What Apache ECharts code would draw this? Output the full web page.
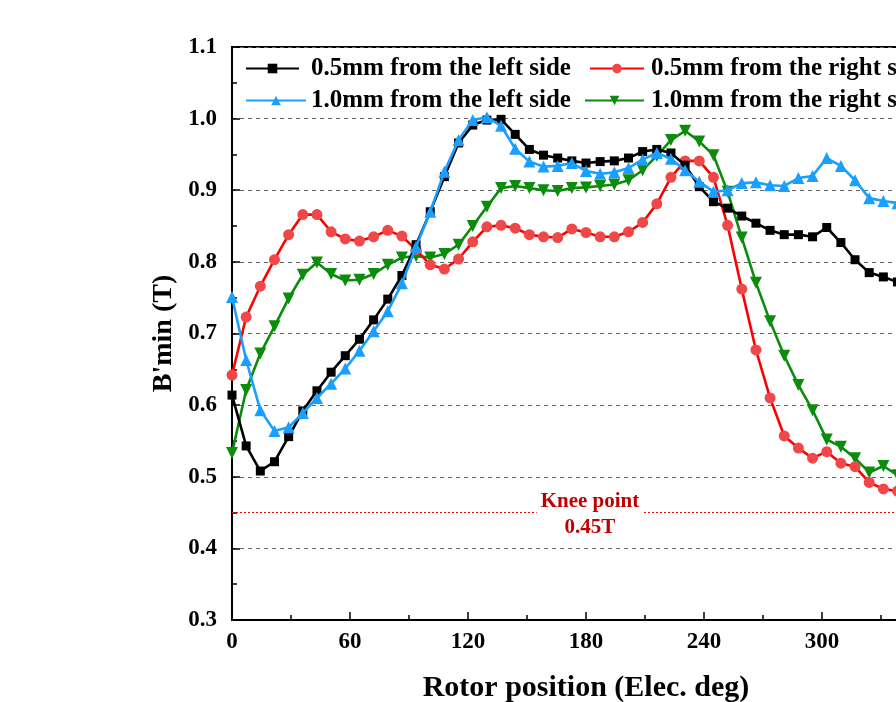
<!DOCTYPE html>
<html>
<head>
<meta charset="utf-8">
<script src="https://cdn.jsdelivr.net/npm/echarts@6/dist/echarts.min.js"></script>
<style>
html,body{margin:0;padding:0;background:#fff;}
#chart{width:896px;height:702px;}
</style>
</head>
<body>
<div id="chart"></div>
<script>
const positions = [0,7.2,14.4,21.6,28.8,36,43.2,50.4,57.6,64.8,72,79.2,86.4,93.6,100.8,108,115.2,122.4,129.6,136.8,144,151.2,158.4,165.6,172.8,180,187.2,194.4,201.6,208.8,216,223.2,230.4,237.6,244.8,252,259.2,266.4,273.6,280.8,288,295.2,302.4,309.6,316.8,324,331.2,338.4,345.6,352.8,360];

const left05 = [0.614,0.543,0.508,0.521,0.556,0.592,0.620,0.646,0.669,0.692,0.719,0.748,0.781,0.824,0.870,0.919,0.966,0.991,0.998,0.999,0.978,0.957,0.949,0.945,0.941,0.938,0.940,0.941,0.945,0.954,0.957,0.952,0.935,0.905,0.884,0.875,0.864,0.854,0.844,0.838,0.838,0.835,0.848,0.827,0.803,0.785,0.779,0.772,0.745,0.690,0.620];
const right05 = [0.642,0.723,0.766,0.803,0.838,0.866,0.866,0.842,0.832,0.829,0.835,0.844,0.836,0.817,0.796,0.790,0.804,0.828,0.849,0.851,0.847,0.838,0.835,0.834,0.846,0.841,0.835,0.835,0.842,0.855,0.881,0.918,0.941,0.941,0.918,0.851,0.762,0.677,0.610,0.557,0.540,0.526,0.535,0.519,0.514,0.492,0.483,0.480,0.490,0.550,0.640];
const left10 = [0.751,0.663,0.593,0.564,0.569,0.589,0.610,0.630,0.651,0.676,0.703,0.731,0.770,0.821,0.870,0.926,0.970,0.998,1.002,0.990,0.958,0.940,0.933,0.934,0.938,0.927,0.923,0.925,0.931,0.943,0.952,0.944,0.928,0.912,0.898,0.900,0.910,0.911,0.907,0.906,0.917,0.920,0.945,0.934,0.914,0.889,0.885,0.882,0.870,0.820,0.750];
const right10 = [0.533,0.621,0.672,0.710,0.749,0.782,0.799,0.783,0.774,0.775,0.783,0.796,0.806,0.808,0.806,0.811,0.824,0.850,0.877,0.903,0.906,0.903,0.900,0.899,0.903,0.904,0.906,0.908,0.914,0.928,0.948,0.970,0.983,0.968,0.949,0.898,0.834,0.771,0.717,0.669,0.628,0.593,0.552,0.542,0.526,0.506,0.515,0.502,0.510,0.520,0.530];

const seriesNames = ['0.5mm from the left side','0.5mm from the right side','1.0mm from the left side','1.0mm from the right side'];
const xTicks = [0,60,120,180,240,300,360];
const yTicks = [0.3,0.4,0.5,0.6,0.7,0.8,0.9,1.0,1.1];
const kneeValue = 0.45;
const kneeText = ['Knee point','0.45T'];

function pairs(vals){ return positions.map((x,i)=>[x, vals[i]]); }

const FONT = '"Liberation Serif","Times New Roman",serif';
const chart = echarts.init(document.getElementById('chart'), null, {renderer:'canvas'});

function mkLegend(name, left, top, w, padLeft){
  return {
    data:[name], left:left, top:top, padding:0, itemWidth:w, itemHeight:12, itemGap:0,
    textStyle:{fontFamily:FONT, fontWeight:'bold', fontSize:25, color:'#000', padding:[0,0,0,padLeft]},
    selectedMode:false
  };
}

const option = {
  animation:false,
  backgroundColor:'#fff',
  grid:{left:232, top:47, width:708, height:573, show:true, borderColor:'#000', borderWidth:2,
    backgroundColor:'transparent', containLabel:false, outerBoundsMode:'none'},
  legend:[
    mkLegend(seriesNames[0], 245, 56, 53, 7),
    mkLegend(seriesNames[1], 589, 56, 54, 2),
    mkLegend(seriesNames[2], 245, 88, 60, 0),
    mkLegend(seriesNames[3], 584, 88, 59, 2)
  ],
  xAxis:{
    type:'value', min:xTicks[0], max:xTicks[xTicks.length-1], interval:60,
    name:'Rotor position (Elec. deg)', nameLocation:'middle', nameGap:53,
    nameTextStyle:{fontFamily:FONT, fontWeight:'bold', fontSize:30, color:'#000'},
    axisLine:{show:true, lineStyle:{color:'#000', width:2}},
    axisTick:{show:true, inside:true, length:8, lineStyle:{color:'#000', width:1.5}},
    minorTick:{show:true, splitNumber:2, length:5, lineStyle:{color:'#000', width:1.5}},
    axisLabel:{fontFamily:FONT, fontWeight:'bold', fontSize:23, color:'#000', margin:11},
    splitLine:{show:false}
  },
  yAxis:{
    type:'value', min:yTicks[0], max:yTicks[yTicks.length-1], interval:0.1,
    name:"B'min (T)", nameLocation:'middle', nameGap:47,
    nameTextStyle:{fontFamily:FONT, fontWeight:'bold', fontSize:28, color:'#000'},
    axisLine:{show:true, lineStyle:{color:'#000', width:2}},
    axisTick:{show:true, inside:true, length:8, lineStyle:{color:'#000', width:1.5}},
    minorTick:{show:true, splitNumber:2, length:5, lineStyle:{color:'#000', width:1.5}},
    axisLabel:{fontFamily:FONT, fontWeight:'bold', fontSize:23, color:'#000', margin:15,
      formatter:v=>v.toFixed(1)},
    splitLine:{show:true, lineStyle:{color:'#666', width:1, type:[4,4]}}
  },
  series:[
    {name:seriesNames[0], type:'line', data:pairs(left05), symbol:'rect', symbolSize:9,
      lineStyle:{color:'#000', width:2.6}, itemStyle:{color:'#000'}, z:4},
    {name:seriesNames[1], type:'line', data:pairs(right05), symbol:'circle', symbolSize:11,
      lineStyle:{color:'#ff0000', width:2.6}, itemStyle:{color:'#f04848'}, z:3,
      markLine:{silent:true, symbol:'none',
        lineStyle:{color:'#ff0000', type:[2,2], width:1.2},
        label:{show:true, position:'middle', formatter:kneeText.join('\n'),
          fontFamily:FONT, fontWeight:'bold', fontSize:21, color:'#c00000', lineHeight:26,
          backgroundColor:'#fff', padding:[0,4,0,4], offset:[4,33]},
        data:[{yAxis:kneeValue}]}},
    {name:seriesNames[2], type:'line', data:pairs(left10), symbol:'triangle', symbolSize:12,
      lineStyle:{color:'#1a9fff', width:2.6}, itemStyle:{color:'#1a9fff'}, z:5},
    {name:seriesNames[3], type:'line', data:pairs(right10), symbol:'triangle', symbolRotate:180, symbolSize:12,
      lineStyle:{color:'#0c8c0c', width:2.6}, itemStyle:{color:'#0c8c0c'}, z:2}
  ]
};
chart.setOption(option);
</script>
</body>
</html>
